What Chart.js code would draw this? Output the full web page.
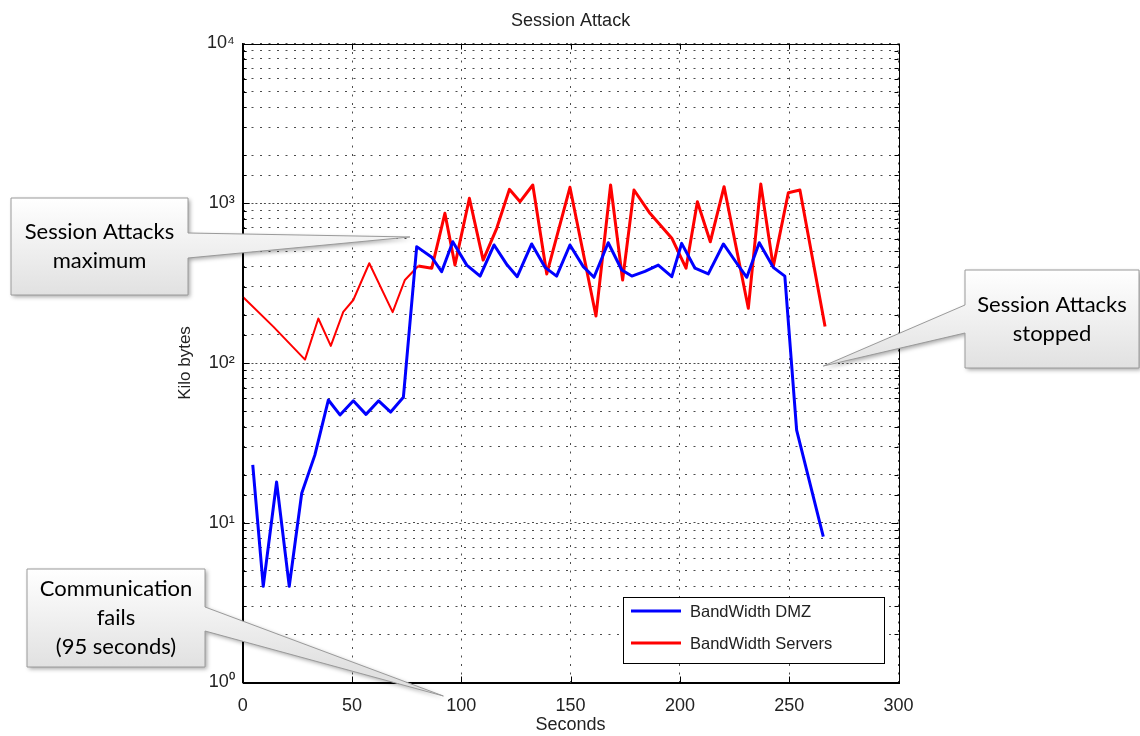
<!DOCTYPE html>
<html>
<head>
<meta charset="utf-8">
<script src="https://cdn.jsdelivr.net/npm/chart.js@4/dist/chart.umd.min.js"></script>
<style>
html,body{margin:0;padding:0;background:#fff;}
#wrap{position:relative;width:1140px;height:736px;}
</style>
</head>
<body>
<div id="wrap"><canvas id="chart-session"></canvas></div>
<script>
// ── Session Attack: bandwidth DMZ vs servers, log scale ──

// values (seconds / kilo bytes)
const dmzSec = [4.6,9.4,15.5,21.3,27,33,39.2,44.5,50.6,56.4,62.2,67.7,73.5,79.6,86.5,91,96.1,102.5,108.6,115,121,125.6,132.2,138.3,143.6,149.7,155.8,160.7,167.2,173.4,178,184,190.1,196.3,200.8,206.9,213,219.9,226,230.6,236.3,242.7,248,253.4,265.6];
const dmzKb  = [23,4,18,4,15.3,26.5,58.7,47.3,58,47.7,58,49.3,61,535,459,373,574,410,350,548,410,347,556,397,350,548,401,344,566,382,350,375,410,347,561,392,361,556,421,344,566,397,350,38,8.2];
const srvSec = [0,14,28.5,34.6,40.3,46,50.6,57.9,68.6,74.2,80.3,86.5,92.5,97.1,103.7,110,116.2,122,126.9,132.7,139.1,149.7,161.6,168.3,173.8,179,186.3,196.3,202.8,208,213.9,220.2,231.3,237,242.7,249.6,254.9,266.4];
const srvKb  = [260,169,105,190,128,209,248,421,208,331,405,392,865,411,1074,441,697,1222,1023,1301,361,1259,197,1301,331,1210,865,604,392,1023,574,1270,220,1319,401,1164,1210,169];

const xTicks = [0,50,100,150,200,250,300];
const yDecades = [1,10,100,1000,10000];
const yTickLabels = ['10⁰','10¹','10²','10³','10⁴'];

const FONT = '"Liberation Sans", Arial, sans-serif';
const TXT = '#222';

// callouts: box in page pixels, tip in data units (seconds, kilo bytes)
const callouts = [
  {lines:['Session Attacks','maximum'], box:[11,198,188,295], side:'right', base:[233,258], tip:[76.5,615]},
  {lines:['Session Attacks','stopped'], box:[965,270,1139,368], side:'left', base:[305,333], tip:[265.6,95.7]},
  {lines:['Communication','fails','(95 seconds)'], box:[27,569,205,667], side:'right', base:[607,631], tip:[91.8,0.823]},
];

const pts = (xs,ys)=>xs.map((v,i)=>({x:v,y:ys[i]}));

const titlePlugin = {
  id:'plotTitle',
  afterDraw(chart){
    const {ctx, chartArea:a} = chart;
    ctx.save();
    ctx.font = '18px '+FONT; ctx.fillStyle = TXT;
    ctx.textAlign = 'center'; ctx.textBaseline = 'middle';
    ctx.fillText('Session Attack', (a.left+a.right)/2, 21);
    ctx.restore();
  }
};

// MATLAB-like box, inner tick marks, denser dots on the decade lines
const framePlugin = {
  id:'frame',
  beforeDatasetsDraw(chart){
    const {ctx, chartArea:a, scales:{y}} = chart;
    ctx.save();
    ctx.strokeStyle = 'rgba(0,0,0,0.7)'; ctx.lineWidth = 1;
    ctx.setLineDash([2,6.5]); ctx.lineDashOffset = -4.2;
    ctx.beginPath();
    yDecades.slice(1,-1).forEach(v=>{
      const py = Math.round(y.getPixelForValue(v))+.5;
      ctx.moveTo(a.left,py); ctx.lineTo(a.right,py);
    });
    ctx.stroke();
    ctx.restore();
  },
  afterDraw(chart){
    const {ctx, chartArea:a, scales:{x,y}} = chart;
    ctx.save();
    ctx.strokeStyle = '#000'; ctx.lineWidth = 1; ctx.setLineDash([]);
    ctx.strokeRect(Math.round(a.left)+.5, Math.round(a.top)+.5, Math.round(a.width), Math.round(a.height));
    ctx.beginPath();
    y.ticks.forEach(t=>{
      const py = Math.round(y.getPixelForValue(t.value))+.5;
      const len = yDecades.includes(t.value) ? 7 : 4;
      ctx.moveTo(a.left,py); ctx.lineTo(a.left+len,py);
      ctx.moveTo(a.right,py); ctx.lineTo(a.right-len,py);
    });
    xTicks.forEach(v=>{
      const px = Math.round(x.getPixelForValue(v))+.5;
      ctx.moveTo(px,a.top); ctx.lineTo(px,a.top+6);
      ctx.moveTo(px,a.bottom); ctx.lineTo(px,a.bottom-6);
    });
    ctx.stroke();
    ctx.restore();
  }
};

const legendPlugin = {
  id:'legendBox',
  afterDraw(chart){
    const {ctx, chartArea:a} = chart;
    const w = 261, h = 66, x0 = Math.round(a.right-15-w), y0 = Math.round(a.bottom-20-h);
    ctx.save();
    ctx.fillStyle = '#fff'; ctx.fillRect(x0,y0,w,h);
    ctx.strokeStyle = '#000'; ctx.lineWidth = 1; ctx.strokeRect(x0+.5,y0+.5,w,h);
    ctx.font = '16.5px '+FONT; ctx.textBaseline = 'middle'; ctx.fillStyle = TXT;
    chart.data.datasets.forEach((ds,i)=>{
      const ly = y0+14+i*32;
      ctx.strokeStyle = ds.borderColor; ctx.lineWidth = 3;
      ctx.beginPath(); ctx.moveTo(x0+8,ly); ctx.lineTo(x0+58,ly); ctx.stroke();
      ctx.fillText(ds.label, x0+67, ly+1);
    });
    ctx.restore();
  }
};

const calloutPlugin = {
  id:'callouts',
  afterDraw(chart){
    const {ctx, scales:{x,y}} = chart;
    callouts.forEach(c=>{
      const [l,t,r,b] = c.box;
      const tx = x.getPixelForValue(c.tip[0]), ty = y.getPixelForValue(c.tip[1]);
      ctx.save();
      ctx.beginPath();
      ctx.moveTo(l,t); ctx.lineTo(r,t);
      if(c.side==='right'){ ctx.lineTo(r,c.base[0]); ctx.lineTo(tx,ty); ctx.lineTo(r,c.base[1]); }
      ctx.lineTo(r,b); ctx.lineTo(l,b);
      if(c.side==='left'){ ctx.lineTo(l,c.base[1]); ctx.lineTo(tx,ty); ctx.lineTo(l,c.base[0]); }
      ctx.closePath();
      const g = ctx.createLinearGradient(0,t,0,b);
      g.addColorStop(0,'#ffffff'); g.addColorStop(1,'#e1e1e1');
      ctx.fillStyle = g;
      ctx.shadowColor = 'rgba(0,0,0,0.35)'; ctx.shadowBlur = 4; ctx.shadowOffsetX = 2; ctx.shadowOffsetY = 2;
      ctx.fill();
      ctx.shadowColor = 'transparent';
      ctx.strokeStyle = '#9a9a9a'; ctx.lineWidth = 1; ctx.stroke();
      ctx.fillStyle = '#000'; ctx.font = '22px Lato, "Open Sans", sans-serif';
      ctx.textAlign = 'center'; ctx.textBaseline = 'middle';
      const cx = (l+r)/2, lh = 29, yy = (t+b)/2-(c.lines.length-1)*lh/2;
      c.lines.forEach((s,i)=>ctx.fillText(s,cx,yy+i*lh));
      ctx.restore();
    });
  }
};

new Chart(document.getElementById('chart-session').getContext('2d'),{
  type:'line',
  data:{datasets:[
    {label:'BandWidth DMZ', data:pts(dmzSec,dmzKb), borderColor:'#0000ff', borderWidth:3},
    {label:'BandWidth Servers', data:pts(srvSec,srvKb), borderColor:'#ff0000', borderWidth:3,
      segment:{borderWidth:ctx=>ctx.p0.parsed.x<80?2:3}},
  ]},
  options:{
    responsive:true, maintainAspectRatio:false, animation:false,
    layout:{padding:{left:174.8,right:241.5,top:43.5,bottom:0}},
    elements:{point:{radius:0}, line:{tension:0, borderJoinStyle:'round'}},
    plugins:{legend:{display:false}, tooltip:{enabled:false}},
    scales:{
      x:{type:'linear', min:0, max:300,
        afterBuildTicks:s=>{ s.ticks = xTicks.map(v=>({value:v})); },
        ticks:{padding:13, color:TXT, font:{family:FONT,size:18}},
        grid:{color:'rgba(0,0,0,0.7)', drawTicks:false},
        border:{display:true, color:'#000', dash:[2,6.5]},
        title:{display:true, text:'Seconds', color:TXT, font:{family:FONT,size:18}, padding:0},
        afterFit:s=>{ s.height = 53.5; }
      },
      y:{type:'logarithmic', min:1, max:10000,
        ticks:{autoSkip:false, padding:8, color:TXT, font:{family:FONT,size:18},
          callback:v=>{ const i = yDecades.indexOf(v); return i<0 ? '' : yTickLabels[i]; }},
        grid:{color:'rgba(0,0,0,0.7)', drawTicks:false},
        border:{display:true, color:'#000', dash:[2,6.5]},
        title:{display:true, text:'Kilo bytes', color:TXT, font:{family:FONT,size:17}, padding:0},
        afterFit:s=>{ s.width = 67.9; }
      }
    }
  },
  plugins:[framePlugin, titlePlugin, legendPlugin, calloutPlugin]
});
</script>
</body>
</html>
